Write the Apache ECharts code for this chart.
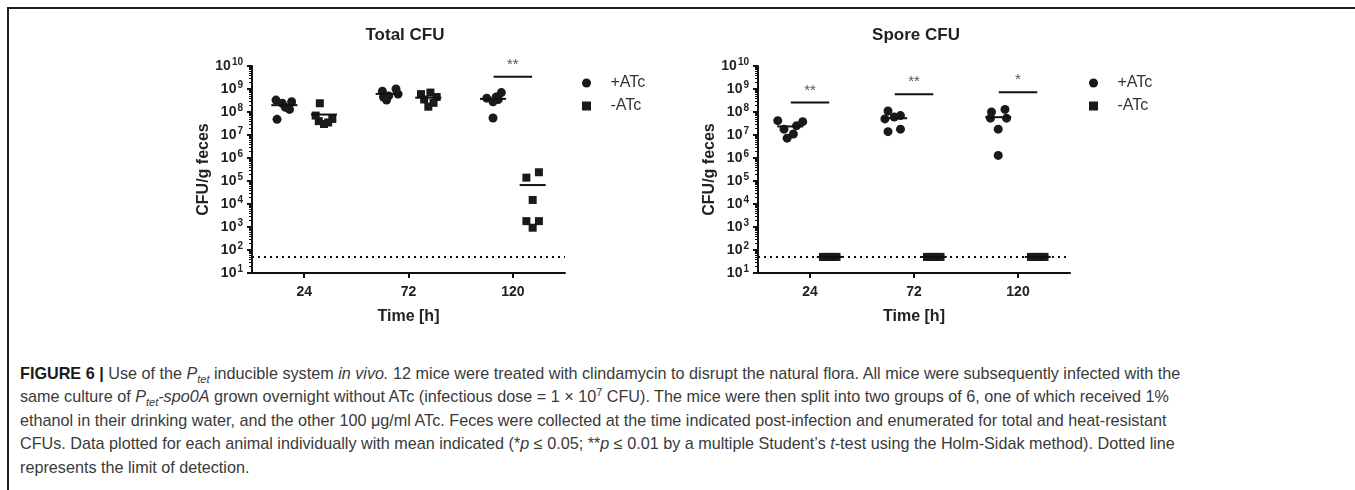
<!DOCTYPE html>
<html>
<head>
<meta charset="utf-8">
<script src="https://cdn.jsdelivr.net/npm/echarts@6/dist/echarts.min.js"></script>
<style>
  body { margin: 0; background: #fff; }
  #page { position: relative; width: 1355px; height: 490px; overflow: hidden; }
  #frame { position: absolute; left: 7px; top: 7px; width: 1350px; height: 490px;
           border-top: 2px solid #1e1e1e; border-left: 2px solid #1e1e1e; }
  #main { position: absolute; left: 0; top: 0; width: 1355px; height: 345px; }
  #caption { position: absolute; left: 20px; top: 362px; font-family: "Liberation Sans", Arial, sans-serif;
             font-size: 16.2px; line-height: 23.4px; color: #3a3a3a; white-space: nowrap; }
  #caption b { color: #1a1a1a; }
  #caption sub, #caption sup { font-size: 11px; line-height: 0; }
</style>
</head>
<body>
<div id="page">
  <div id="frame"></div>
  <div id="main"></div>
  <div id="caption">
    <b>FIGURE 6 |</b> Use of the <i>P<sub>tet</sub></i> inducible system <i>in vivo.</i> 12 mice were treated with clindamycin to disrupt the natural flora. All mice were subsequently infected with the<br>
    same culture of <i>P<sub>tet</sub>-spo0A</i> grown overnight without ATc (infectious dose = 1 &times; 10<sup>7</sup> CFU). The mice were then split into two groups of 6, one of which received 1%<br>
    ethanol in their drinking water, and the other 100 &mu;g/ml ATc. Feces were collected at the time indicated post-infection and enumerated for total and heat-resistant<br>
    CFUs. Data plotted for each animal individually with mean indicated (*<i>p</i> &le; 0.05; **<i>p</i> &le; 0.01 by a multiple Student&rsquo;s <i>t</i>-test using the Holm-Sidak method). Dotted line<br>
    represents the limit of detection.
  </div>
</div>
<script>
// time points (h)
var timeLabels = ['24', '72', '120'];

// CFU/g feces, one value per mouse
var totalPlusATc = [
  [3.3e8, 2.8e8, 2.4e8, 1.6e8, 1.3e8, 4.8e7],
  [1.0e9, 8e8, 6e8, 5e8, 4.5e8, 3.3e8],
  [7e8, 4.5e8, 4e8, 3.5e8, 2.8e8, 5.5e7]
];
var totalMinusATc = [
  [2.4e8, 7e7, 5e7, 4e7, 3.5e7, 3e7],
  [7e8, 6e8, 4.5e8, 3.5e8, 2.5e8, 1.7e8],
  [2.4e5, 1.4e5, 1.5e4, 1800, 1800, 930]
];
var sporePlusATc = [
  [4.2e7, 3.8e7, 2.5e7, 1.8e7, 1.1e7, 7.3e6],
  [1.1e8, 7e7, 6e7, 5e7, 1.8e7, 1.4e7],
  [1.3e8, 1.0e8, 5.4e7, 5.4e7, 1.8e7, 1.3e6]
];
var sporeMinusATc = [
  [50, 50, 50, 50, 50, 50],
  [50, 50, 50, 50, 50, 50],
  [50, 50, 50, 50, 50, 50]
];

// horizontal scatter of each point inside its column (fraction of a category)
var totalPlusJitter = [
  [-0.08, 0.07, -0.02, 0.01, 0.05, -0.07],
  [0.07, -0.06, 0.09, 0.0, -0.05, -0.02],
  [0.08, 0.03, -0.06, 0.05, 0.0, 0.0]
];
var totalMinusJitter = [
  [-0.04, -0.08, 0.08, -0.05, 0.04, 0.0],
  [0.02, -0.07, 0.08, -0.04, 0.05, 0.0],
  [0.06, -0.06, 0.0, -0.06, 0.06, 0.0]
];
var sporePlusJitter = [
  [-0.12, 0.12, 0.06, -0.06, 0.03, -0.03],
  [-0.06, 0.06, 0.0, -0.09, 0.06, -0.06],
  [0.065, -0.065, -0.075, 0.08, 0.0, 0.0]
];
var sporeMinusJitter = [
  [-0.065, -0.04, -0.015, 0.015, 0.04, 0.065],
  [-0.065, -0.04, -0.015, 0.015, 0.04, 0.065],
  [-0.065, -0.04, -0.015, 0.015, 0.04, 0.065]
];

var limitOfDetection = 50;

// significance brackets
var totalStars = ['', '', '**'];
var totalBarLevel = [null, null, 3.4e9];
var sporeStars = ['**', '**', '*'];
var sporeBarLevel = [2.6e8, 5.9e8, 7.2e8];

var groupShift = 0.19;
var meanHalf = 0.125;

function mean(arr) {
  var s = 0;
  for (var i = 0; i < arr.length; i++) s += arr[i];
  return s / arr.length;
}

function scatterData(values, jitter, shift) {
  var out = [];
  for (var c = 0; c < values.length; c++) {
    for (var i = 0; i < values[c].length; i++) {
      out.push([c + 0.5 + shift + jitter[c][i], values[c][i]]);
    }
  }
  return out;
}

function meanData(values, shift) {
  var out = [];
  for (var c = 0; c < values.length; c++) {
    out.push([c + 0.5 + shift, mean(values[c])]);
  }
  return out;
}

function barData(levels) {
  var out = [];
  for (var c = 0; c < levels.length; c++) {
    if (levels[c] != null) out.push([c + 0.5, levels[c], c]);
  }
  return out;
}

var axisColor = '#111';
var squareIcon = 'path://M0,0L10,0L10,10L0,10Z';

function yAxisFor(grid) {
  return {
    type: 'log', logBase: 10, min: 10, max: 1e10, gridIndex: grid,
    name: 'CFU/g feces', nameLocation: 'middle', nameGap: 38, nameRotate: 90,
    nameTextStyle: { fontFamily: 'Liberation Sans', fontWeight: 'bold', fontSize: 16, color: '#222' },
    axisLine: { show: true, lineStyle: { color: axisColor, width: 2 } },
    axisTick: { show: true, length: 5, lineStyle: { color: axisColor, width: 2 } },
    minorTick: { show: true, splitNumber: 9, length: 3, lineStyle: { color: axisColor, width: 1 } },
    splitLine: { show: false },
    axisLabel: {
      margin: 9,
      formatter: function (v) {
        var e = Math.round(Math.log(v) / Math.LN10);
        return '{b|10}{s|' + e + '}';
      },
      rich: {
        b: { fontFamily: 'Liberation Sans', fontWeight: 'bold', fontSize: 14, color: '#222', lineHeight: 17 },
        s: { fontFamily: 'Liberation Sans', fontWeight: 'bold', fontSize: 10, color: '#222', lineHeight: 10, verticalAlign: 'top', padding: [0, 0, 0, 1] }
      }
    }
  };
}

function catAxisFor(grid) {
  return {
    type: 'category', data: timeLabels, gridIndex: grid, boundaryGap: true,
    name: 'Time [h]', nameLocation: 'middle', nameGap: 36,
    nameTextStyle: { fontFamily: 'Liberation Sans', fontWeight: 'bold', fontSize: 16, color: '#222' },
    axisLine: { show: true, lineStyle: { color: axisColor, width: 2 } },
    axisTick: { show: true, alignWithLabel: true, length: 5, lineStyle: { color: axisColor, width: 2 } },
    axisLabel: { margin: 12, fontFamily: 'Liberation Sans', fontWeight: 'bold', fontSize: 14, color: '#222' }
  };
}

function valAxisFor(grid) {
  return { type: 'value', min: 0, max: 3, gridIndex: grid, show: false };
}

function meanSeries(values, shift, xi, yi) {
  return {
    type: 'custom', xAxisIndex: xi, yAxisIndex: yi, silent: true, z: 5,
    data: meanData(values, shift),
    renderItem: function (params, api) {
      var x = api.value(0), y = api.value(1);
      var p1 = api.coord([x - meanHalf, y]);
      var p2 = api.coord([x + meanHalf, y]);
      return { type: 'line', shape: { x1: p1[0], y1: p1[1], x2: p2[0], y2: p2[1] },
               style: { stroke: '#111', lineWidth: 2 } };
    }
  };
}

function barSeries(levels, stars, xi, yi) {
  return {
    type: 'custom', xAxisIndex: xi, yAxisIndex: yi, silent: true, z: 5,
    data: barData(levels),
    renderItem: function (params, api) {
      var x = api.value(0), y = api.value(1), c = api.value(2);
      var p1 = api.coord([x - 0.185, y]);
      var p2 = api.coord([x + 0.185, y]);
      return {
        type: 'group',
        children: [
          { type: 'line', shape: { x1: p1[0], y1: p1[1], x2: p2[0], y2: p2[1] },
            style: { stroke: '#111', lineWidth: 2 } },
          { type: 'text', x: (p1[0] + p2[0]) / 2, y: p1[1] - 12,
            style: { text: stars[c], fill: '#555', fontSize: 15, fontFamily: 'Liberation Sans',
                     align: 'center', verticalAlign: 'middle' } }
        ]
      };
    }
  };
}

function scatterSeries(name, symbol, size, data, xi, yi, withLod) {
  var s = {
    name: name, type: 'scatter', xAxisIndex: xi, yAxisIndex: yi,
    symbol: symbol, symbolSize: size, data: data,
    itemStyle: { color: '#1a1a1a', opacity: 1 }, z: 4
  };
  if (withLod) {
    s.markLine = {
      silent: true, symbol: ['none', 'none'], label: { show: false },
      lineStyle: { type: [2, 4], color: '#111', width: 2 },
      data: [{ yAxis: limitOfDetection }]
    };
  }
  return s;
}

function legendFor(left) {
  return {
    orient: 'vertical', left: left, top: 70, itemWidth: 38, itemHeight: 9, itemGap: 7,
    symbolKeepAspect: true, selectedMode: false,
    data: [{ name: '+ATc', icon: 'circle' }, { name: '-ATc', icon: squareIcon }],
    textStyle: { fontFamily: 'Liberation Sans', fontSize: 16, color: '#333' }
  };
}

var myChart = echarts.init(document.getElementById('main'));

var option = {
  animation: false,
  title: [
    { text: 'Total CFU', left: 400, top: 22, textAlign: 'center',
      textStyle: { fontFamily: 'Liberation Sans', fontWeight: 'bold', fontSize: 17, color: '#222' } },
    { text: 'Spore CFU', left: 911, top: 22, textAlign: 'center',
      textStyle: { fontFamily: 'Liberation Sans', fontWeight: 'bold', fontSize: 17, color: '#222' } }
  ],
  legend: [legendFor(577), legendFor(1084)],
  grid: [
    { left: 252, top: 66, width: 313, height: 207 },
    { left: 758, top: 66, width: 312, height: 207 }
  ],
  xAxis: [catAxisFor(0), valAxisFor(0), catAxisFor(1), valAxisFor(1)],
  yAxis: [yAxisFor(0), yAxisFor(1)],
  series: [
    scatterSeries('+ATc', 'circle', 9, scatterData(totalPlusATc, totalPlusJitter, -groupShift), 1, 0, true),
    scatterSeries('-ATc', 'rect', 8, scatterData(totalMinusATc, totalMinusJitter, groupShift), 1, 0, false),
    meanSeries(totalPlusATc, -groupShift, 1, 0),
    meanSeries(totalMinusATc, groupShift, 1, 0),
    barSeries(totalBarLevel, totalStars, 1, 0),
    scatterSeries('+ATc', 'circle', 9, scatterData(sporePlusATc, sporePlusJitter, -groupShift), 3, 1, true),
    scatterSeries('-ATc', 'rect', 8, scatterData(sporeMinusATc, sporeMinusJitter, groupShift), 3, 1, false),
    meanSeries(sporePlusATc, -groupShift, 3, 1),
    meanSeries(sporeMinusATc, groupShift, 3, 1),
    barSeries(sporeBarLevel, sporeStars, 3, 1)
  ]
};

myChart.setOption(option);
</script>
</body>
</html>
